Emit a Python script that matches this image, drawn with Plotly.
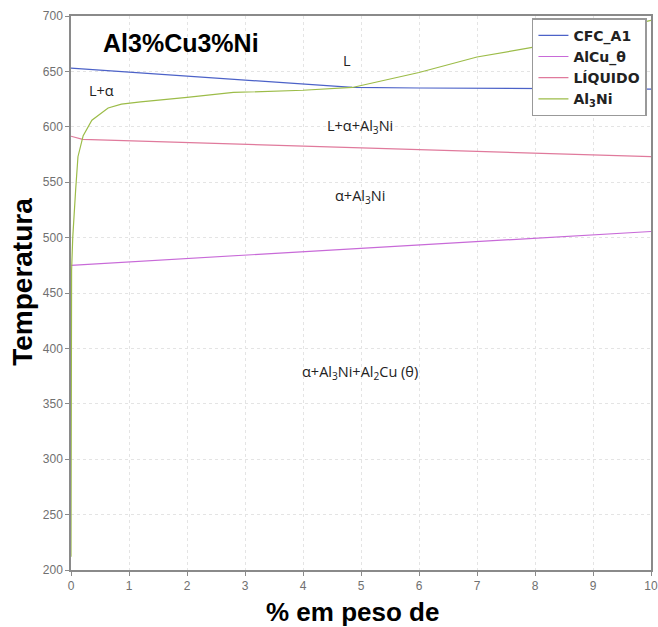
import plotly.graph_objects as go

# CFC_A1 (blue)
cfc_x = [0, 1, 2, 3, 4, 4.85, 6, 7, 8, 9, 10]
cfc_y = [653, 649.5, 646, 642.5, 639, 635.5, 635, 634.8, 634.5, 634.3, 634]
# AlCu_theta (purple)
alcu_x = [0, 10]
alcu_y = [475, 505.5]
# LIQUIDO (pink)
liq_x = [0, 0.2, 10]
liq_y = [591.5, 588.7, 573]
# Al3Ni (green)
al3ni_x = [0, 0.01, 0.03, 0.05, 0.08, 0.12, 0.21, 0.36, 0.64, 0.87, 1.2, 2.0, 2.8, 4.0, 4.85, 6.0, 7.0, 8.1, 9.0, 10]
al3ni_y = [212, 470, 500, 520, 543, 573, 592, 606, 617, 620.5, 622.5, 626.5, 631, 633, 635.5, 649, 663, 673, 684, 696]

x_ticks = [0, 1, 2, 3, 4, 5, 6, 7, 8, 9, 10]
y_ticks = [200, 250, 300, 350, 400, 450, 500, 550, 600, 650, 700]

# region labels
lab_x = [4.76, 0.53, 4.98, 4.98, 4.98]
lab_y = [660, 633, 600, 537, 378]
lab_t = ["L", "L+α", "L+α+Al<sub>3</sub>Ni", "α+Al<sub>3</sub>Ni", "α+Al<sub>3</sub>Ni+Al<sub>2</sub>Cu (θ)"]

FONT = "Liberation Sans, Arial, sans-serif"

fig = go.Figure()
fig.add_trace(go.Scatter(x=cfc_x, y=cfc_y, mode="lines", name="CFC_A1",
                         line=dict(color="#4c62c8", width=1.2)))
fig.add_trace(go.Scatter(x=alcu_x, y=alcu_y, mode="lines", name="AlCu_θ",
                         line=dict(color="#c86ad8", width=1.2)))
fig.add_trace(go.Scatter(x=liq_x, y=liq_y, mode="lines", name="LÍQUIDO",
                         line=dict(color="#e07a9c", width=1.2)))
fig.add_trace(go.Scatter(x=al3ni_x, y=al3ni_y, mode="lines", name="Al<sub>3</sub>Ni",
                         line=dict(color="#9cbc48", width=1.2)))

for x, y, t in zip(lab_x, lab_y, lab_t):
    fig.add_annotation(x=x, y=y, text=t, showarrow=False, xref="x", yref="y",
                       font=dict(family="Open Sans, sans-serif", size=14.5, color="#222"))

fig.add_annotation(x=0.052, y=0.951, xref="paper", yref="paper", xanchor="left", yanchor="middle",
                   text="<b>Al3%Cu3%Ni</b>", showarrow=False,
                   font=dict(family=FONT, size=25, color="#000"))
fig.add_annotation(x=-0.083, y=0.52, xref="paper", yref="paper", textangle=-90,
                   xanchor="center", yanchor="middle",
                   text="<b>Temperatura</b>", showarrow=False,
                   font=dict(family=FONT, size=28, color="#000"))
fig.add_annotation(x=0.486, y=-0.075, xref="paper", yref="paper", yanchor="middle",
                   text="<b>% em peso de</b>", showarrow=False,
                   font=dict(family=FONT, size=26, color="#000"))

axis_common = dict(showline=True, linecolor="#8a8a8a", linewidth=1.5, mirror=True,
                   ticks="outside", ticklen=4, tickcolor="#8a8a8a",
                   showgrid=True, gridcolor="#e4e4e4", griddash="dot", gridwidth=1,
                   zeroline=False, automargin=False,
                   tickfont=dict(family=FONT, size=12, color="#707070"))

fig.update_layout(
    width=658, height=627,
    margin=dict(l=71, r=7, t=16, b=57, autoexpand=False),
    plot_bgcolor="white", paper_bgcolor="white",
    xaxis=dict(range=[0, 10], tickvals=x_ticks, **axis_common),
    yaxis=dict(range=[200, 700], tickvals=y_ticks, **axis_common),
    legend=dict(x=0.993, y=0.996, xanchor="right", yanchor="top",
                bgcolor="white", bordercolor="#999", borderwidth=1.5,
                font=dict(family="DejaVu Sans, sans-serif", size=14, color="#222", weight="bold"),
                tracegroupgap=0, itemwidth=30),
    showlegend=True,
)

fig.write_html("out.html",
               config={"displayModeBar": False},
               post_script="document.body.style.margin='0';document.body.style.padding='0';"
                           "document.documentElement.style.overflow='hidden';")
